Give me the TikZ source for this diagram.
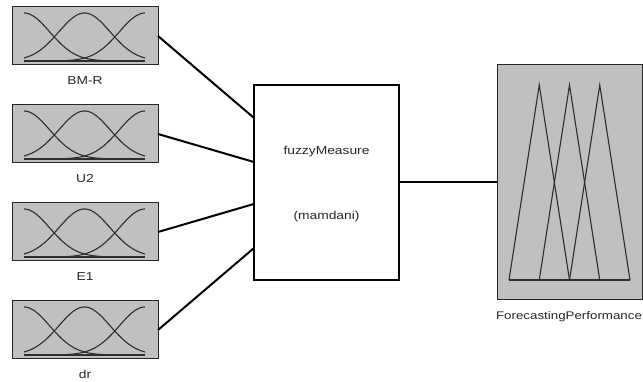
\documentclass[tikz,border=0pt]{standalone}
\usepackage{fontspec}
\setmainfont{Liberation Sans}[FakeStretch=1.2]
\usetikzlibrary{calc}
\definecolor{mfgray}{HTML}{C0C0C0}
\definecolor{curvecol}{HTML}{2E2E2E}
\definecolor{txtcol}{HTML}{262626}
\tikzset{
  varbox/.style={draw=black!85, line width=1pt, fill=mfgray, minimum width=146pt,
    minimum height=58pt, inner sep=0pt, outer sep=0pt},
  fisbox/.style={draw=black, line width=2pt, fill=white, minimum width=145pt,
    minimum height=195pt, inner sep=0pt, outer sep=0pt},
  outbox/.style={draw=black!85, line width=1pt, fill=mfgray, minimum width=145pt,
    minimum height=235pt, inner sep=0pt, outer sep=0pt},
  caption/.style={text=txtcol, font=\fontsize{11.5}{13}\selectfont, anchor=base, inner sep=0pt},
  link/.style={line width=2pt, black},
  mf/.style={curvecol, line width=1.1pt},
  % three Gaussian membership functions, drawn relative to the box centre
  pics/gaussmf/.style={code={
    \draw[mf] (-61,-25) -- (60,-25);
    \draw[mf] plot[domain=0:1, samples=60] ({-61+121*\x},{-25+48*exp(-((\x)*(\x))/0.0901)});
    \draw[mf] plot[domain=0:1, samples=60] ({-61+121*\x},{-25+48*exp(-((\x-0.5)*(\x-0.5))/0.0901)});
    \draw[mf] plot[domain=0:1, samples=60] ({-61+121*\x},{-25+48*exp(-((\x-1)*(\x-1))/0.0901)});
  }},
  % three triangular membership functions
  pics/trimf/.style={code={
    \draw[mf] (-60.5,-97.5) -- (60.5,-97.5);
    \draw[mf] (-60.5,-97.5) -- (-30.25,97.5) -- (0,-97.5);
    \draw[mf] (-30.25,-97.5) -- (0,97.5) -- (30.25,-97.5);
    \draw[mf] (0,-97.5) -- (30.25,97.5) -- (60.5,-97.5);
  }},
}
\begin{document}
\begin{tikzpicture}[x=1pt, y=1pt]
  \useasboundingbox (0,0) rectangle (643,382);

  % input variables
  \node[varbox] (v1) at (85,346) {};
  \node[varbox] (v2) at (85,248) {};
  \node[varbox] (v3) at (85,150) {};
  \node[varbox] (v4) at (85,52) {};
  \foreach \v in {v1,v2,v3,v4} { \pic at (\v.center) {gaussmf}; }

  \node[caption] (l1) at ($(v1.south)+(0,-20)$) {BM-R};
  \node[caption] (l2) at ($(v2.south)+(0,-20)$) {U2};
  \node[caption] (l3) at ($(v3.south)+(0,-20)$) {E1};
  \node[caption] (l4) at ($(v4.south)+(0,-20)$) {dr};

  % inference system
  \node[fisbox] (fis) at (326.5,199.5) {};
  \node[caption] (fname) at ($(fis.center)+(0,27.5)$) {fuzzyMeasure};
  \node[caption] (ftype) at ($(fis.center)+(0,-37.5)$) {(mamdani)};

  % output variable
  \node[outbox] (out) at (569.5,199.5) {};
  \pic at (out.center) {trimf};
  \node[caption, font=\fontsize{11.1}{13}\selectfont] (lout) at ($(out.south)+(-0.5,-20)$) {ForecastingPerformance};

  % connections
  \coordinate (in1) at ($(fis.north west)!0.169!(fis.south west)$);
  \coordinate (in2) at ($(fis.north west)!0.395!(fis.south west)$);
  \coordinate (in3) at ($(fis.north west)!0.610!(fis.south west)$);
  \coordinate (in4) at ($(fis.north west)!0.836!(fis.south west)$);
  \draw[link] (v1.east) -- (in1);
  \draw[link] (v2.east) -- (in2);
  \draw[link] (v3.east) -- (in3);
  \draw[link] (v4.east) -- (in4);
  \draw[link] (fis.east) -- (out.west);
\end{tikzpicture}
\end{document}
